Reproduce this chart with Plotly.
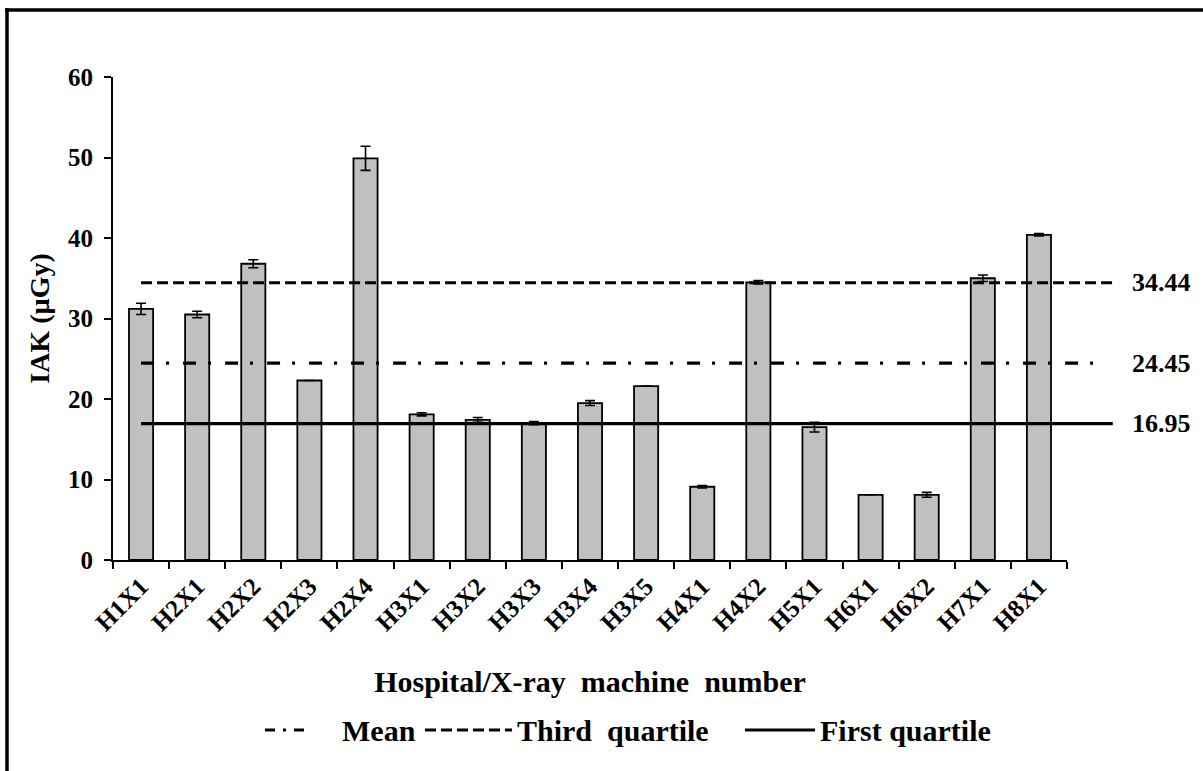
import plotly.graph_objects as go

# IAK per hospital / X-ray machine, with standard deviation
machines = ["H1X1", "H2X1", "H2X2", "H2X3", "H2X4", "H3X1", "H3X2", "H3X3", "H3X4",
            "H3X5", "H4X1", "H4X2", "H5X1", "H6X1", "H6X2", "H7X1", "H8X1"]
iak = [31.2, 30.5, 36.8, 22.3, 49.9, 18.1, 17.4, 17.0, 19.5,
       21.6, 9.1, 34.5, 16.5, 8.1, 8.1, 35.0, 40.4]
iak_sd = [0.7, 0.4, 0.5, 0.0, 1.5, 0.2, 0.3, 0.2, 0.3,
          0.0, 0.15, 0.2, 0.6, 0.0, 0.3, 0.4, 0.15]

# Summary statistics drawn as horizontal reference lines
stat_names = ["Mean", "Third  quartile", "First quartile"]
stat_values = [24.45, 34.44, 16.95]
stat_dash = ["13px,12px,3px,14px", "11px,5px", "solid"]
stat_end = [1.035, 1.048, 1.048]

# Key below the axis: sample segment (pixels) and text start for each statistic
key_seg = [(265, 304), (425, 512), (745, 815)]
key_text_x = [340, 515, 818]
key_dash = ["10px,8px,3px,8px", "11px,5px", "solid"]
KEY_Y = 730

FONT = "Liberation Serif"
W, H = 1203, 771
L, R, T, B = 113, 136, 77, 211
PW, PH = W - L - R, H - T - B


def px_x(p):
    return (p - L) / PW


def px_y(p):
    return (H - B - p) / PH


fig = go.Figure()
fig.add_trace(go.Bar(
    x=machines, y=iak,
    marker=dict(color="#c0c0c0", line=dict(color="black", width=1.8)),
    error_y=dict(type="data", array=iak_sd, visible=True,
                 color="black", thickness=1.6, width=5),
    showlegend=False,
))

for val, dash, x_end in zip(stat_values, stat_dash, stat_end):
    fig.add_shape(type="line", xref="paper", yref="y",
                  x0=0.5 / len(machines), x1=x_end, y0=val, y1=val,
                  line=dict(color="black", width=3.2, dash=dash), layer="above")
    fig.add_annotation(x=px_x(1130), y=val, xref="paper", yref="y",
                       text=f"{val:.2f}", showarrow=False, xanchor="left",
                       font=dict(family=FONT, size=26, color="black", weight="bold"))

for name, (sx0, sx1), tx, dash in zip(stat_names, key_seg, key_text_x, key_dash):
    fig.add_shape(type="line", xref="paper", yref="paper",
                  x0=px_x(sx0), x1=px_x(sx1), y0=px_y(KEY_Y), y1=px_y(KEY_Y),
                  line=dict(color="black", width=3.2, dash=dash))
    fig.add_annotation(x=px_x(tx), y=px_y(KEY_Y), xref="paper", yref="paper",
                       text=name, showarrow=False, xanchor="left", yanchor="middle",
                       font=dict(family=FONT, size=30, color="black", weight="bold"))

# Frame along the top and left edges
fig.add_shape(type="line", xref="paper", yref="paper",
              x0=px_x(5), x1=px_x(W + 5), y0=px_y(10), y1=px_y(10),
              line=dict(color="black", width=3.5))
fig.add_shape(type="line", xref="paper", yref="paper",
              x0=px_x(7), x1=px_x(7), y0=px_y(8), y1=px_y(H + 5),
              line=dict(color="black", width=3.5))

fig.update_layout(
    width=W, height=H,
    margin=dict(l=L, r=R, t=T, b=B),
    plot_bgcolor="white", paper_bgcolor="white",
    bargap=0.57,
    showlegend=False,
    font=dict(family=FONT, color="black", weight="bold"),
    xaxis=dict(
        type="category", showline=True, linecolor="black", linewidth=1.8,
        ticks="outside", tickson="boundaries", ticklen=7, tickwidth=1.8,
        tickcolor="black", tickangle=-45, showgrid=False,
        tickfont=dict(family=FONT, size=25, weight="bold"),
        title=dict(text="Hospital/X-ray  machine  number", standoff=36,
                   font=dict(family=FONT, size=30, weight="bold")),
    ),
    yaxis=dict(
        range=[0, 60], dtick=10, showline=True, linecolor="black", linewidth=1.8,
        ticks="outside", ticklen=7, tickwidth=1.8, tickcolor="black",
        showgrid=False, zeroline=False, ticklabelstandoff=6,
        tickfont=dict(family=FONT, size=25, weight="bold"),
        title=dict(text="IAK (µGy)", standoff=10,
                   font=dict(family=FONT, size=28, weight="bold")),
    ),
)

fig.write_html("out.html")
